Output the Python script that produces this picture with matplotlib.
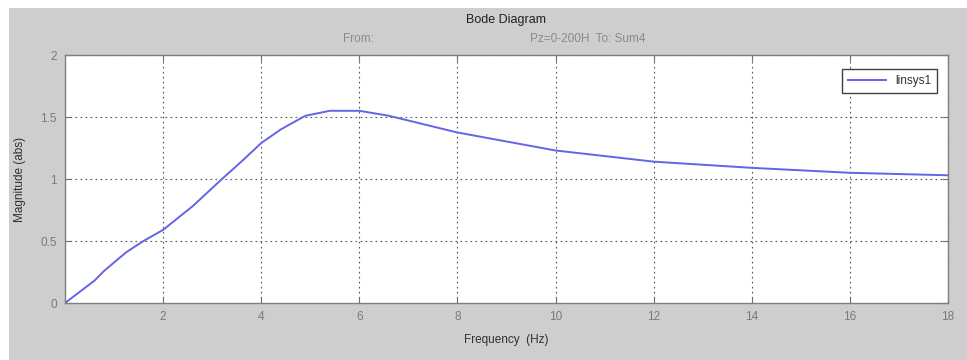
import matplotlib
matplotlib.use("Agg")
import matplotlib.pyplot as plt
from matplotlib.patches import Rectangle

plt.rcParams['font.family'] = ['Liberation Sans Narrow', 'Liberation Sans', 'DejaVu Sans']

# magnitude response of linsys1
freq = [0, 0.6, 0.8, 1.25, 1.6, 2.0, 2.6, 3.2, 3.65, 4.0, 4.4, 4.9, 5.4, 6.0,
        6.6, 8.0, 10.0, 12.0, 14.0, 16.0, 18.0]
mag = [0, 0.18, 0.26, 0.41, 0.5, 0.59, 0.78, 1.0, 1.16, 1.29, 1.40, 1.51, 1.55,
       1.55, 1.51, 1.375, 1.23, 1.14, 1.09, 1.05, 1.03]
xticks = [2, 4, 6, 8, 10, 12, 14, 16, 18]
yticks = [0, 0.5, 1, 1.5, 2]
yticklabels = ['0', '0.5', '1', '1.5', '2']

W, H = 967, 360
fig = plt.figure(figsize=(W / 100, H / 100), dpi=100)
fig.patch.set_facecolor('white')
# grey figure panel
fig.patches.append(Rectangle((9 / W, 0), 1 - 9 / W, 1 - 8 / H, transform=fig.transFigure,
                             facecolor='#cecece', edgecolor='none', zorder=-10))

ax = fig.add_axes([65 / W, 57 / H, (948 - 65) / W, (303 - 55) / H])
ax.set_facecolor('white')
ax.plot(freq, mag, color='#6464e6', lw=1.4, label='linsys1')

ax.set_xlim(0, 18)
ax.set_ylim(0, 2)
ax.set_xticks(xticks)
ax.set_yticks(yticks)
ax.set_yticklabels(yticklabels)
ax.tick_params(direction='in', length=4, width=0.8, color='#707070',
               labelcolor='#7a7a7a', labelsize=8.5, top=True, right=True, pad=6)
ax.grid(True, linestyle=(0, (1.5, 3)), color='#555555', lw=0.8)
for s in ax.spines.values():
    s.set_color('#808080')
    s.set_linewidth(1.0)

ax.set_xlabel('Frequency  (Hz)', fontsize=8.5, color='#303030', labelpad=8)
ax.set_ylabel('Magnitude (abs)', fontsize=8.5, color='#303030', labelpad=10)

fig.text(506 / W, 1 - 20 / H, 'Bode Diagram', ha='center', va='center',
         fontsize=9, color='#202020')
fig.text(358 / W, 1 - 39 / H, 'From:', ha='center', va='center',
         fontsize=8.5, color='#8a8a8a')
fig.text(530 / W, 1 - 39 / H, 'Pz=0-200H  To: Sum4', ha='left', va='center',
         fontsize=8.5, color='#8a8a8a')

leg = ax.legend(loc='upper right', fontsize=8.5, fancybox=False, framealpha=1,
                edgecolor='#404040', handlelength=3.2, borderpad=0.5,
                bbox_to_anchor=(0.9945, 0.967))
leg.get_frame().set_linewidth(1.0)
for t in leg.get_texts():
    t.set_color('#303030')

fig.savefig('out.png', dpi=100)
